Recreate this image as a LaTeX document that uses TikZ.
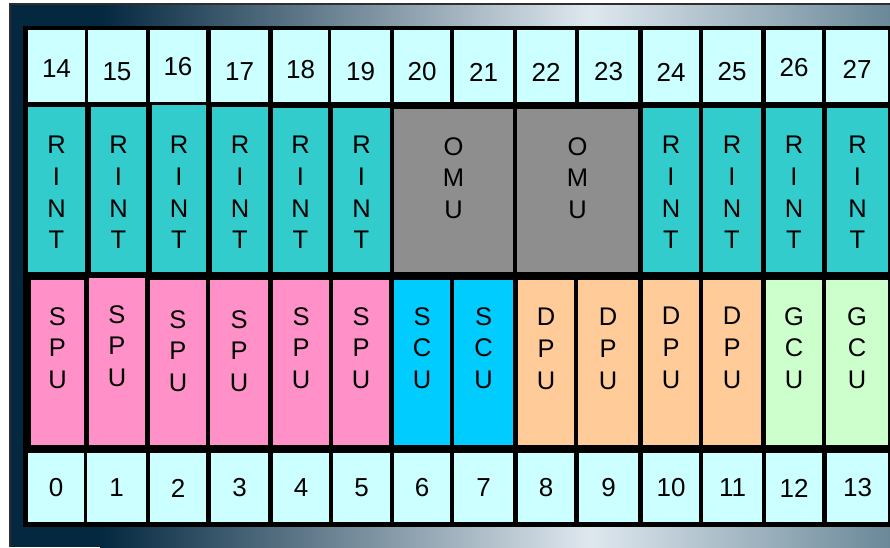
\documentclass[tikz,border=0pt]{standalone}
\usepackage{fontspec}
\setmainfont{Liberation Sans}
\definecolor{numcol}{HTML}{CCFFFF}
\definecolor{rintcol}{HTML}{33CCCC}
\definecolor{omucol}{HTML}{8E8E8E}
\definecolor{spucol}{HTML}{FF91C8}
\definecolor{scucol}{HTML}{00CCFF}
\definecolor{dpucol}{HTML}{FFCC99}
\definecolor{gcucol}{HTML}{CCFFCC}
\definecolor{bgdark}{HTML}{042840}
\definecolor{bglight}{HTML}{DFE8EF}
\definecolor{bgright}{HTML}{6A8898}
\definecolor{edgecol}{HTML}{2E2E2E}
\begin{document}
\begin{tikzpicture}[x=1pt,y=-1pt,
  cell/.style={draw=none, inner sep=0pt, outer sep=0pt, anchor=north west},
  numtxt/.style={font=\fontsize{26}{30}\selectfont, text=black, inner sep=0pt},
  lettxt/.style={font=\fontsize{25.5}{31.7}\selectfont, text=black, align=center, anchor=north, inner sep=0pt},
]
\useasboundingbox (0,0) rectangle (890,547);
% background frame with gradient
\path[left color=bgdark, right color=bglight] (100,4) rectangle (590,547);
\fill[bgdark] (10,4) rectangle (100.5,547);
\path[left color=bglight, right color=bgright] (589.5,4) rectangle (890,547);
\draw[edgecol, line width=1.5pt] (9.75,547) -- (9.75,3.75) -- (890,3.75);
% black panel
\fill[black] (23,26) rectangle (890,527);
% top row numbers 14..27
\foreach \n/\l/\r/\ty in {14/28/85/69,15/88/146/72,16/150/206/67,17/211/268/72,18/273/328/70,19/331/390/72,20/394/450/72,21/454/513/72,22/517/575/72,23/579/638/72,24/643/699/72,25/703/761/72,26/766/822/68,27/826/888/69}{
  \node[cell, fill=numcol, minimum width={\r-\l}, minimum height=72] (n\n) at (\l,30) {};
  \node[numtxt] (tn\n) at ({(\l+\r)/2},\ty) {\n};
}
% bottom row numbers 0..13
\foreach \n/\l/\r in {0/28/84,1/87/146,2/150/206,3/211/268,4/273/329,5/333/390,6/394/450,7/454/513,8/518/574,9/579/638,10/643/699,11/703/762,12/766/822,13/827/888}{
  \node[cell, fill=numcol, minimum width={\r-\l}, minimum height=69] (n\n) at (\l,453) {};
  \node[numtxt] (tn\n) at ({(\l+\r)/2},488) {\n};
}
% RINT row
\foreach \k/\l/\r/\t in {a/28/85/107,b/91/146/107,c/152/206/105,d/212/268/107,e/273/328/108,f/333/390/108,g/643/699/108,h/703/761/108,i/766/822/108,j/827/888/108}{
  \node[cell, fill=rintcol, minimum width={\r-\l}, minimum height={272-\t}] (r\k) at (\l,\t) {};
  \node[lettxt] (tr\k) at ({(\l+\r)/2},136) {R\\I\\N\\T};
}
% OMU boxes
\node[cell, fill=omucol, minimum width=119, minimum height=163] (omu1) at (394,109) {};
\node[lettxt] (tomu1) at (omu1.north |- 0,137) {O\\M\\U};
\node[cell, fill=omucol, minimum width=121, minimum height=163] (omu2) at (517,109) {};
\node[lettxt] (tomu2) at (omu2.north |- 0,137) {O\\M\\U};
% lower unit row
\foreach \k/\l/\r/\t/\c/\txt/\ty in {
  a/31/84/280/spucol/{S\\P\\U}/307,
  b/89/145/278/spucol/{S\\P\\U}/305,
  c/150/206/280/spucol/{S\\P\\U}/310,
  d/210/268/280/spucol/{S\\P\\U}/310,
  e/273/329/280/spucol/{S\\P\\U}/307,
  f/333/389/280/spucol/{S\\P\\U}/307,
  g/394/450/280/scucol/{S\\C\\U}/307,
  h/454/513/280/scucol/{S\\C\\U}/307,
  i/518/574/280/dpucol/{D\\P\\U}/308,
  j/578/638/280/dpucol/{D\\P\\U}/308,
  k/643/699/280/dpucol/{D\\P\\U}/307,
  l/703/761/280/dpucol/{D\\P\\U}/307,
  m/766/822/280/gcucol/{G\\C\\U}/307,
  n/826/888/280/gcucol/{G\\C\\U}/307}{
  \node[cell, fill=\c, minimum width={\r-\l}, minimum height={445-\t}] (u\k) at (\l,\t) {};
  \node[lettxt] (tu\k) at ({(\l+\r)/2},\ty) {\txt};
}
\end{tikzpicture}
\end{document}
